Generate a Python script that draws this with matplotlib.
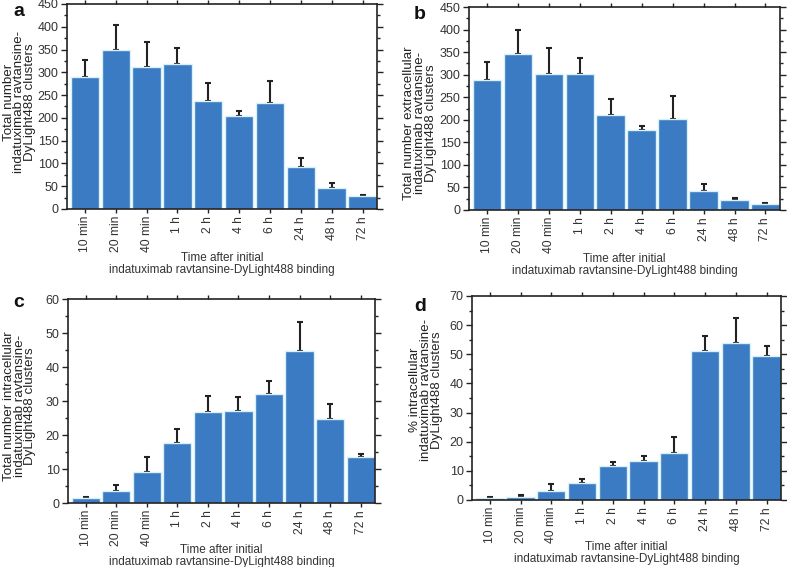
import matplotlib
matplotlib.use("Agg")
import matplotlib.pyplot as plt
from matplotlib.ticker import MultipleLocator
import numpy as np

plt.rcParams['font.family'] = ['Liberation Sans', 'DejaVu Sans']

categories = ["10 min", "20 min", "40 min", "1 h", "2 h", "4 h", "6 h", "24 h", "48 h", "72 h"]

total_mean = [290, 349, 311, 319, 237, 204, 232, 92, 47, 28]
total_upper = [326, 405, 366, 354, 277, 216, 280, 111, 57, 31]

extra_mean = [288, 345, 302, 302, 211, 178, 201, 43, 22, 12.5]
extra_upper = [327, 400, 360, 338, 246, 186, 252, 58, 27, 15.5]

intra_mean = [1.4, 3.6, 9.0, 17.6, 26.7, 27.0, 32.0, 44.8, 24.8, 13.6]
intra_upper = [1.9, 5.4, 13.5, 21.8, 31.4, 31.2, 35.9, 53.3, 29.1, 14.3]

pct_mean = [0.6, 1.0, 3.2, 5.7, 11.5, 13.3, 16.0, 51.0, 53.8, 49.5]
pct_upper = [0.9, 1.6, 5.6, 7.3, 13.1, 15.0, 21.5, 56.2, 62.5, 53.0]

ylabels = [
    "Total number\nindatuximab ravtansine-\nDyLight488 clusters",
    "Total number extracellular\nindatuximab ravtansine-\nDyLight488 clusters",
    "Total number intracellular\nindatuximab ravtansine-\nDyLight488 clusters",
    "% intracellular\nindatuximab ravtansine-\nDyLight488 clusters",
]
xlabel = "Time after initial\nindatuximab ravtansine-DyLight488 binding"
letters = ["a", "b", "c", "d"]

W, H = 787, 567
fig = plt.figure(figsize=(W / 100, H / 100), dpi=100)

# axes boxes in pixels: left, top, right, bottom
boxes_px = [
    (67, 4, 377, 209),
    (469, 7, 780, 210),
    (68, 299, 375, 503),
    (472, 296, 781, 500),
]
ylims = [(0, 450, 50), (0, 450, 50), (0, 60, 10), (0, 70, 10)]
data = [(total_mean, total_upper), (extra_mean, extra_upper),
        (intra_mean, intra_upper), (pct_mean, pct_upper)]
letter_px = [(19, 16), (420, 19), (19, 307), (420, 311)]
ylabel_center_px = [(19.5, 102), (420, 123), (19.5, 406), (426, 390)]
xlabel_pad = [0, 0, -1.5, -1.5]

bar_color = "#3b7bc3"
text_color = "#333333"

x = np.arange(len(categories))
for i in range(4):
    l, t, r, b = boxes_px[i]
    ax = fig.add_axes([l / W, 1 - b / H, (r - l) / W, (b - t) / H])
    mean, upper = data[i]
    mean = np.array(mean, dtype=float)
    upper = np.array(upper, dtype=float)
    ax.bar(x, mean, width=0.92, color=bar_color, edgecolor="#d8f0fa", linewidth=1.0, zorder=2)
    ax.errorbar(x, mean, yerr=[np.zeros_like(mean), upper - mean], fmt="none",
                ecolor="#222222", elinewidth=1.5, capsize=2.5, capthick=1.5, zorder=1)
    lo, hi, step = ylims[i]
    ax.set_ylim(lo, hi)
    ax.set_xlim(-0.58, 9.47)
    ax.yaxis.set_major_locator(MultipleLocator(step))
    ax.yaxis.set_minor_locator(MultipleLocator(step / 2))
    ax.set_xticks(x)
    ax.set_xticklabels(categories, rotation=90, fontsize=8.7, color=text_color)
    ax.tick_params(axis="y", which="major", labelsize=9, colors="#222222", labelcolor=text_color,
                   direction="out", length=4, width=1, right=True, pad=2)
    ax.tick_params(axis="y", which="minor", direction="out", length=2, width=1, right=True, colors="#222222")
    ax.tick_params(axis="x", which="major", direction="out", length=3, width=1, top=True, colors="#222222",
                   labelcolor=text_color, pad=2)
    for s in ax.spines.values():
        s.set_linewidth(1.2)
        s.set_color("#222222")
    ax.set_xlabel(xlabel, fontsize=8.5, color=text_color, labelpad=xlabel_pad[i], linespacing=0.92)
    ax.set_ylabel(ylabels[i], fontsize=9.6, color="#222222", linespacing=0.85)
    cx, cy = ylabel_center_px[i]
    ax.yaxis.set_label_coords((cx - l) / (r - l), (b - cy) / (b - t))
    ax.yaxis.label.set_va("center")
    fig.text(letter_px[i][0] / W, 1 - letter_px[i][1] / H, letters[i], fontsize=14, fontweight="bold",
             ha="center", va="baseline", color="#111111")

fig.savefig("out.png", dpi=100)
